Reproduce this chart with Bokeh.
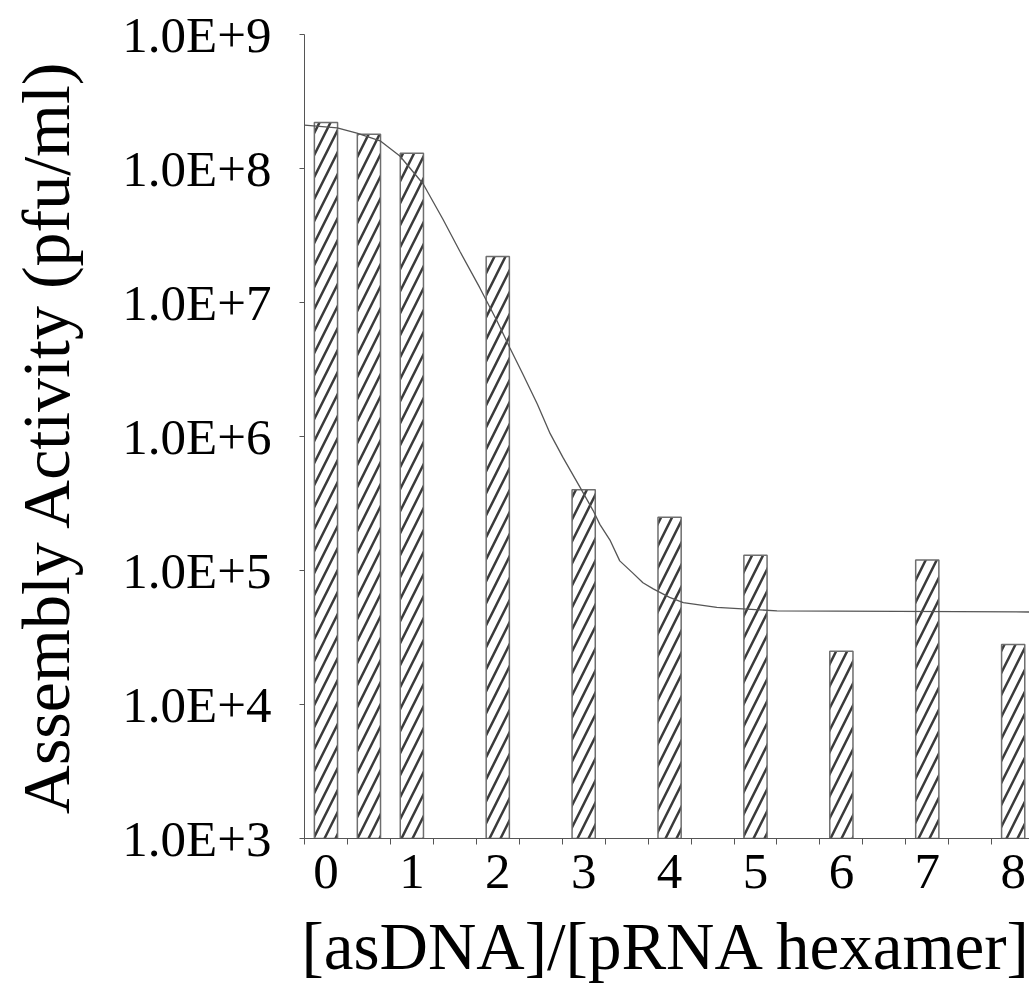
from bokeh.plotting import figure
from bokeh.models import Range1d, FixedTicker, ColumnDataSource
from bokeh.embed import file_html
from bokeh.resources import INLINE

# ---- data ----
ratio = [0, 0.5, 1, 2, 3, 4, 5, 6, 7, 8]
activity = [2.2e8, 1.8e8, 1.3e8, 2.2e7, 4.0e5, 2.5e5, 1.3e5, 2.5e4, 1.2e5, 2.8e4]

curve_x = [-0.25, 0.13, 0.36, 0.63, 0.86, 1.13, 1.36, 1.56, 1.79, 1.99, 2.14, 2.29,
           2.46, 2.61, 2.76, 2.96, 3.11, 3.19, 3.31, 3.42, 3.57, 3.69, 3.81, 4.0, 4.16,
           4.55, 5.25, 8.25]
curve_y = [2.11e8, 2.01e8, 1.84e8, 1.61e8, 1.24e8, 7.7e7, 4.2e7, 2.4e7, 1.29e7, 7.3e6,
           4.6e6, 2.94e6, 1.75e6, 1.05e6, 6.95e5, 4.15e5, 2.8e5, 2.2e5, 1.67e5, 1.18e5,
           9.6e4, 8.1e4, 7.3e4, 6.3e4, 5.75e4, 5.3e4, 5.0e4, 4.9e4]

y_tick_values = [1e3, 1e4, 1e5, 1e6, 1e7, 1e8, 1e9]
y_tick_labels = ["1.0E+3", "1.0E+4", "1.0E+5", "1.0E+6", "1.0E+7", "1.0E+8", "1.0E+9"]
x_tick_values = [0, 1, 2, 3, 4, 5, 6, 7, 8]
x_tick_labels = ["0", "1", "2", "3", "4", "5", "6", "7", "8"]
x_boundaries = [-0.25 + 0.5 * i for i in range(18)]

FONT = "Liberation Serif"

p = figure(width=1029, height=994, y_axis_type="log",
           x_range=Range1d(-0.25, 8.19), y_range=Range1d(1e3, 1e9),
           output_backend="svg", toolbar_location=None,
           min_border_left=304, min_border_right=0, min_border_top=34,
           min_border_bottom=156)
p.outline_line_color = None
p.grid.visible = False
p.background_fill_color = "white"
p.border_fill_color = "white"

src = ColumnDataSource(dict(x=ratio, top=activity, bottom=[1e3] * len(ratio)))
p.vbar(x="x", top="top", bottom="bottom", width=0.27, source=src,
       fill_color="white", line_color="#6e6e6e", line_width=1.5,
       hatch_pattern="/", hatch_scale=22, hatch_weight=2.5, hatch_color="#3a3a3a")

p.line(curve_x, curve_y, line_color="#555555", line_width=1.3)

# y axis
ya = p.yaxis[0]
ya.ticker = FixedTicker(ticks=y_tick_values)
ya.major_label_overrides = {v: l for v, l in zip(y_tick_values, y_tick_labels)}
ya.minor_tick_line_color = None
ya.major_tick_out = 5
ya.major_tick_in = 0
ya.major_label_standoff = 28
ya.axis_line_color = "#555555"
ya.major_tick_line_color = "#555555"
ya.major_label_text_font = FONT
ya.major_label_text_font_size = "51px"
ya.major_label_text_color = "black"
ya.axis_label = "Assembly Activity (pfu/ml)"
ya.axis_label_text_font = FONT
ya.axis_label_text_font_size = "68px"
ya.axis_label_text_font_style = "normal"
ya.axis_label_text_color = "black"
ya.axis_label_standoff = 35

# x axis
xa = p.xaxis[0]
xa.ticker = FixedTicker(ticks=x_tick_values, minor_ticks=x_boundaries)
xa.major_label_overrides = {v: l for v, l in zip(x_tick_values, x_tick_labels)}
xa.major_tick_out = 0
xa.major_tick_in = 0
xa.minor_tick_out = 6
xa.minor_tick_in = 0
xa.minor_tick_line_color = "#555555"
xa.axis_line_color = "#555555"
xa.major_label_standoff = 10
xa.major_label_text_font = FONT
xa.major_label_text_font_size = "51px"
xa.major_label_text_color = "black"
xa.axis_label = "[asDNA]/[pRNA hexamer]"
xa.axis_label_text_font = FONT
xa.axis_label_text_font_size = "67px"
xa.axis_label_text_font_style = "normal"
xa.axis_label_text_color = "black"
xa.axis_label_standoff = 18

open("out.html", "w").write(file_html(p, INLINE))
